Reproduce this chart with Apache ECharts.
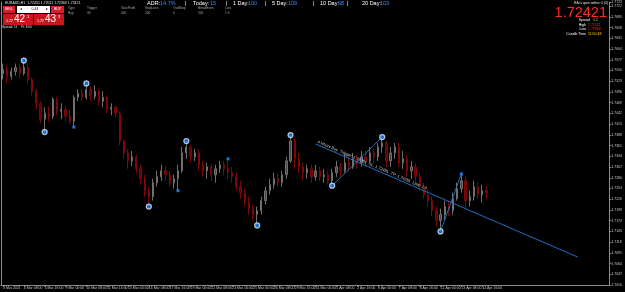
<!DOCTYPE html>
<html><head><meta charset="utf-8">
<script src="https://cdn.jsdelivr.net/npm/echarts@6/dist/echarts.min.js"></script>
<style>html,body{margin:0;padding:0;background:#000;}#c{width:625px;height:292px;}</style>
</head><body><div id="c"></div>
<script>
// ---- data (EURAUD H1) ----
const opens = [1.75425,1.75525,1.7535,1.75475,1.75575,1.75425,1.75575,1.75275,1.74975,1.74675,
1.74275,1.74425,1.7435,1.74775,1.74475,1.74525,1.7435,1.74225,1.74825,1.74925,
1.74825,1.75025,1.7485,1.74975,1.74725,1.74825,1.74525,1.74575,1.74425,1.73725,
1.73425,1.73225,1.73325,1.73025,1.72775,1.72475,1.72325,1.72675,1.72825,1.72975,
1.72875,1.72675,1.72775,1.72975,1.73425,1.73575,1.73325,1.73425,1.73125,1.72975,
1.73075,1.72875,1.73025,1.73125,1.73025,1.72925,1.72825,1.72575,1.72425,1.72175,
1.72025,1.71875,1.71975,1.72225,1.72475,1.72625,1.72775,1.72675,1.72875,1.73225,
1.73725,1.73275,1.73075,1.72925,1.73025,1.72825,1.72975,1.72825,1.72875,1.72725,
1.72925,1.73075,1.72975,1.73175,1.73075,1.73275,1.73175,1.73325,1.73225,1.73425,
1.73325,1.73575,1.73675,1.73225,1.73425,1.73575,1.73175,1.73275,1.72975,1.73075,
1.72825,1.72575,1.72375,1.72225,1.71975,1.71725,1.71875,1.72075,1.71975,1.72275,
1.72525,1.72725,1.72225,1.72325,1.72575,1.72375,1.72475];
const closes = [1.75525,1.7535,1.75475,1.75575,1.75425,1.75575,1.75275,1.74975,1.74675,1.74275,
1.74425,1.7435,1.74775,1.74475,1.74525,1.7435,1.74225,1.74825,1.74925,1.74825,
1.75025,1.7485,1.74975,1.74725,1.74825,1.74525,1.74575,1.74425,1.73725,1.73425,
1.73225,1.73325,1.73025,1.72775,1.72475,1.72325,1.72675,1.72825,1.72975,1.72875,
1.72675,1.72775,1.72975,1.73425,1.73575,1.73325,1.73425,1.73125,1.72975,1.73075,
1.72875,1.73025,1.73125,1.73025,1.72925,1.72825,1.72575,1.72425,1.72175,1.72025,
1.71875,1.71975,1.72225,1.72475,1.72625,1.72775,1.72675,1.72875,1.73225,1.73725,
1.73275,1.73075,1.72925,1.73025,1.72825,1.72975,1.72825,1.72875,1.72725,1.72925,
1.73075,1.72975,1.73175,1.73075,1.73275,1.73175,1.73325,1.73225,1.73425,1.73325,
1.73575,1.73675,1.73225,1.73425,1.73575,1.73175,1.73275,1.72975,1.73075,1.72825,
1.72575,1.72375,1.72225,1.71975,1.71725,1.71875,1.72075,1.71975,1.72275,1.72525,
1.72725,1.72225,1.72325,1.72575,1.72375,1.72475,1.72421];
const lows = [1.75275,1.75175,1.75275,1.75375,1.75325,1.75375,1.75175,1.74875,1.74525,1.74175,
1.7395,1.74225,1.74275,1.74375,1.74275,1.74225,1.7415,1.74075,1.74725,1.74725,
1.74775,1.74725,1.74775,1.74625,1.74575,1.74425,1.74375,1.74325,1.73625,1.73275,
1.73025,1.731,1.72925,1.72625,1.72325,1.72075,1.72225,1.72575,1.72725,1.72725,
1.72575,1.72525,1.72475,1.72925,1.73275,1.73175,1.73225,1.72975,1.72825,1.72775,
1.72725,1.72675,1.72925,1.72875,1.72775,1.72675,1.72475,1.72275,1.72075,1.71875,
1.71725,1.716,1.71875,1.72125,1.72375,1.72525,1.72575,1.72575,1.72775,1.73175,
1.73025,1.72925,1.72725,1.72775,1.72675,1.72725,1.72725,1.72675,1.72625,1.726,
1.72825,1.72825,1.72925,1.72975,1.73025,1.73025,1.73075,1.73075,1.73175,1.73175,
1.73225,1.73425,1.73075,1.73075,1.73275,1.73075,1.73025,1.72825,1.72775,1.72675,
1.72475,1.72275,1.72075,1.71825,1.71575,1.7145,1.71725,1.71825,1.71875,1.72225,
1.72425,1.72025,1.72075,1.72225,1.72275,1.72175,1.72275];
const highs = [1.75675,1.75625,1.75575,1.75675,1.7565,1.7575,1.75675,1.75325,1.75025,1.74725,
1.74575,1.746,1.74825,1.74825,1.74675,1.74625,1.74525,1.74875,1.75025,1.75025,
1.75175,1.751,1.75125,1.75025,1.74975,1.74875,1.74675,1.74625,1.74475,1.73775,
1.73525,1.73475,1.73375,1.73125,1.72875,1.72575,1.72775,1.72975,1.73125,1.731,
1.72975,1.72875,1.73125,1.73575,1.73725,1.73625,1.73525,1.73525,1.73225,1.73175,
1.7315,1.73125,1.73225,1.73225,1.73275,1.73075,1.72925,1.72725,1.72525,1.72325,
1.72125,1.72075,1.72325,1.72575,1.72775,1.72925,1.72925,1.72975,1.73325,1.73875,
1.73775,1.73425,1.73175,1.73125,1.73125,1.73125,1.73075,1.73025,1.72975,1.73025,
1.73225,1.73175,1.73375,1.73325,1.73425,1.73375,1.73475,1.73475,1.73575,1.73525,
1.73675,1.73825,1.73725,1.73575,1.73675,1.73675,1.73475,1.73375,1.73225,1.73175,
1.72925,1.72675,1.72525,1.72325,1.72075,1.72025,1.72225,1.72225,1.72425,1.72675,
1.729,1.72825,1.72475,1.72725,1.72675,1.72625,1.72575];

const tickLabels = ["3 Mar 2021","4 Mar 08:00","5 Mar 16:00","9 Mar 00:00","10 Mar 08:00","11 Mar 16:00",
"15 Mar 00:00","16 Mar 08:00","17 Mar 16:00","19 Mar 00:00","22 Mar 08:00","23 Mar 16:00",
"25 Mar 00:00","26 Mar 08:00","29 Mar 16:00","31 Mar 00:00","1 Apr 08:00","2 Apr 16:00",
"6 Apr 00:00","7 Apr 08:00","8 Apr 16:00","12 Apr 00:00","13 Apr 08:00","14 Apr 16:00"];
const barsPerTick = 5;
const slotCount = 146; // bars incl. empty right shift
const categories = Array.from({length: slotCount}, (_, i) => String(i));

const swingIdx = [5,10,20,35,44,61,69,79,91,105];
const swingVal = [1.7575,1.7395,1.75175,1.72075,1.73725,1.716,1.73875,1.726,1.73825,1.7145];
const minorIdx = [17,42,54,110];
const minorVal = [1.74075,1.72475,1.73275,1.729];
const zigA = [[79,1.726],[91,1.73825]];
const zigB = [[105,1.7145],[110,1.729]];
const trendStart = [75,1.7365];
const trendEnd = [138,1.7080];
const trendText = "4 Hours Buy  Trigger: 1.73391  SL: 1.72491  TP: 1.74291  Lots: 1.0";
const lastPrice = 1.72421;

const ohlc = opens.map((o, i) => [o, closes[i], lows[i], highs[i]]);

const FONT = 'Liberation Sans, Arial, sans-serif';
function T(x, y, text, color, size, extra) {
  return Object.assign({type:'text', x, y, z:100, style:Object.assign({text, fill:color, fontSize:size, fontFamily:FONT, textVerticalAlign:'top'}, extra||{})});
}
const graphics = [
  T(5,1,'EURAUD,H1  1.72451 1.72511 1.72363 1.72421','#e0e0e0',3.5),
  {type:'rect', shape:{x:3,y:6,width:12,height:7}, style:{fill:'#d4202a'}, z:100},
  T(9,7.5,'SELL','#fff',3.5,{textAlign:'center'}),
  {type:'rect', shape:{x:17,y:6,width:33,height:7}, style:{fill:'#fff'}, z:100},
  T(20,7.5,'◂','#333',3.5),
  T(35,7.5,'0.44','#000',3.5,{textAlign:'center'}),
  T(46,7.5,'▸','#333',3.5),
  {type:'rect', shape:{x:51,y:6,width:13,height:7}, style:{fill:'#d4202a'}, z:100},
  T(57.5,7.5,'BUY','#fff',3.5,{textAlign:'center'}),
  {type:'rect', shape:{x:3,y:14,width:30,height:11}, style:{fill:'#c8171f'}, z:100},
  {type:'rect', shape:{x:34,y:14,width:30,height:11}, style:{fill:'#c8171f'}, z:100},
  T(6,19.5,'1.72','#fff',3.5),
  T(14,14.5,'42','#fff',10),
  T(27,15,'1','#fff',4),
  T(37,19.5,'1.72','#fff',3.5),
  T(45,14.5,'43','#fff',10),
  T(58,15,'3','#fff',4),
  T(2,26,'Spread: 11    Pt: 8.00','#e0e0e0',3.2),
  // order table
  T(68,6.5,'Type','#a8a8a8',3.2), T(87,6.5,'Trigger','#a8a8a8',3.2), T(121,6.5,'TakeProfit','#a8a8a8',3.2),
  T(145,6.5,'StopLoss','#a8a8a8',3.2), T(173,6.5,'TrailStop','#a8a8a8',3.2), T(198,6.5,'BreakEven','#a8a8a8',3.2),
  T(225,6.5,'Lots','#a8a8a8',3.2),
  T(68,11.5,'Buy','#a8a8a8',3.2), T(87,11.5,'30','#a8a8a8',3.2), T(121,11.5,'400','#a8a8a8',3.2),
  T(145,11.5,'200','#a8a8a8',3.2), T(173,11.5,'0','#a8a8a8',3.2), T(198,11.5,'200','#a8a8a8',3.2),
  T(225,11.5,'1.0','#a8a8a8',3.2),
  // ADR line
  T(147,0.5,'ADR:','#fff',5.5), T(160,0.5,'14.7%','#3d86ff',5.5), T(185,0.5,'|','#fff',5.5),
  T(193,0.5,'Today:','#fff',5.5), T(210,0.5,'15','#3d86ff',5.5), T(226,0.5,'|','#fff',5.5),
  T(233,0.5,'1 Day:','#fff',5.5), T(248,0.5,'100','#3d86ff',5.5), T(265,0.5,'|','#fff',5.5),
  T(272,0.5,'5 Day:','#fff',5.5), T(288,0.5,'109','#3d86ff',5.5), T(313,0.5,'|','#fff',5.5),
  T(320,0.5,'10 Day:','#fff',5.5), T(338,0.5,'98','#3d86ff',5.5), T(347,0.5,'|','#fff',5.5),
  T(362,0.5,'20 Day:','#fff',5.5), T(380,0.5,'103','#3d86ff',5.5),
  // top-right info
  T(608,1.5,'EA is open orders: 0 (0)','#e8e8e8',3.2,{textAlign:'right'}),
  T(607,5,'1.72421','#ff2a22',14.5,{textAlign:'right'}),
  T(590,18.5,'Spread','#fff',3.5,{textAlign:'right'}), T(593,18.5,'1.1','#ffd700',3.5),
  T(586,23,'High','#fff',3.5,{textAlign:'right'}), T(588,23,'1.72511','#ff3030',3.5),
  T(586,27.5,'Low','#fff',3.5,{textAlign:'right'}), T(588,27.5,'1.72363','#ff3030',3.5),
  T(586,32,'Candle Time','#fff',3.5,{textAlign:'right'}), T(588,32,'11:50:48','#ffd700',3.5)
];

const chart = echarts.init(document.getElementById('c'), null, {renderer:'canvas'});
chart.setOption({
  backgroundColor:'#000',
  animation:false,
  grid:{left:0, right:15, top:0, bottom:7},
  xAxis:{type:'category', data:categories, boundaryGap:true,
    axisLine:{lineStyle:{color:'#8a8a8a', width:1}},
    axisTick:{show:true, length:2, alignWithLabel:true, lineStyle:{color:'#8a8a8a'},
      interval:(i)=> i % barsPerTick === 0 && i/barsPerTick < tickLabels.length},
    axisLabel:{color:'#c8c8c8', fontSize:3.5, fontFamily:FONT, margin:1.5, align:'left',
      interval:(i)=> i % barsPerTick === 0 && i/barsPerTick < tickLabels.length,
      formatter:(v,i)=> tickLabels[i/barsPerTick] || ''},
    splitLine:{show:false}},
  yAxis:[{type:'value', position:'right', min:1.7010, max:1.77225, interval:0.0027, scale:true,
    axisLine:{show:true, lineStyle:{color:'#8a8a8a', width:1}},
    axisTick:{show:true, length:2, lineStyle:{color:'#8a8a8a'}},
    axisLabel:{color:'#c8c8c8', fontSize:3.5, fontFamily:FONT, margin:2, formatter:v=>v.toFixed(4)},
    splitLine:{show:false}},
    {type:'value', position:'left', min:1.7010, max:1.77225, show:true,
    axisLine:{show:true, lineStyle:{color:'#8a8a8a'}}, axisTick:{show:false}, axisLabel:{show:false}, splitLine:{show:false}}],
  series:[
    {type:'candlestick', data:ohlc, barWidth:1.8,
      itemStyle:{color:'#484848', color0:'#680000', borderColor:'#707070', borderColor0:'#7e0808', borderWidth:1},
      markLine:{symbol:['none','none'], silent:true, animation:false,
        data:[
          [{coord:zigA[0], lineStyle:{color:'#2a86e0', width:0.8, type:'solid'}, label:{show:false}}, {coord:zigA[1]}],
          [{coord:zigB[0], lineStyle:{color:'#2a86e0', width:0.8, type:'solid'}, label:{show:false}}, {coord:zigB[1]}],
          [{coord:trendStart, lineStyle:{color:'#1f6fc4', width:1, type:'solid'},
            label:{show:true, position:'insideStartTop', formatter:trendText, color:'#d8d8d8', fontSize:4, fontFamily:FONT, distance:1}},
           {coord:trendEnd}],
          [{yAxis:lastPrice, x:0, lineStyle:{opacity:0}, label:{show:true, position:'end', formatter:lastPrice.toFixed(5),
            backgroundColor:'#fff', color:'#000', fontSize:3.5, fontFamily:FONT, padding:[0.5,1], distance:1}},
           {yAxis:lastPrice, x:610}]
        ]}
    },
    {type:'scatter', data:swingIdx.map((x,i)=>[x, swingVal[i]]), symbol:'circle', symbolSize:5,
      itemStyle:{color:'#1e86ff', borderColor:'#d8ecff', borderWidth:1.2}, z:5},
    {type:'scatter', data:minorIdx.map((x,i)=>[x, minorVal[i]]), symbol:'rect', symbolSize:3,
      itemStyle:{color:'#1e90ff'}, z:5}
  ],
  graphic:graphics
});
</script></body></html>
